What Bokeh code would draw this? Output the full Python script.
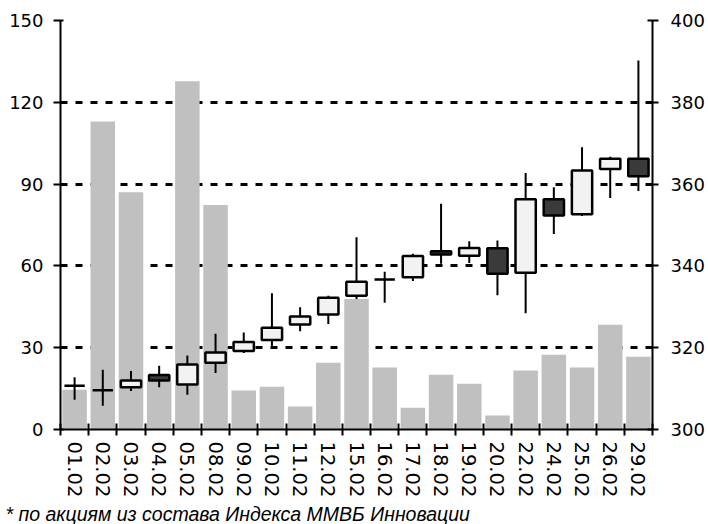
from bokeh.plotting import figure
from bokeh.models import (Range1d, LinearAxis, FixedTicker, ColumnDataSource, Title, Grid)
from bokeh.embed import file_html
from bokeh.resources import INLINE

dates = ["01.02", "02.02", "03.02", "04.02", "05.02", "08.02", "09.02", "10.02", "11.02",
         "12.02", "15.02", "16.02", "17.02", "18.02", "19.02", "20.02", "22.02", "24.02",
         "25.02", "26.02", "29.02"]
volume = [14.6, 113, 87, 18, 127.7, 82.3, 14.3, 15.7, 8.4, 24.5, 47.9, 22.7, 8.0, 20.1,
          16.8, 5.1, 21.6, 27.4, 22.7, 38.4, 26.7]
open_ = [310.7, 309.6, 310.3, 313.3, 311.0, 316.3, 319.2, 321.9, 325.7, 328.1, 332.7, 336.7,
         337.2, 343.6, 342.5, 344.3, 338.3, 356.3, 352.6, 363.7, 366.2]
close = [310.7, 309.6, 312.0, 312.0, 315.9, 318.8, 321.4, 324.9, 327.6, 332.2, 336.1, 336.7,
         342.4, 342.8, 344.4, 338.1, 356.3, 352.3, 363.3, 366.2, 361.9]
high = [312.8, 314.6, 314.3, 315.6, 318.1, 323.4, 323.7, 333.3, 329.9, 332.7, 347.0, 338.6,
        343.0, 355.2, 346.0, 346.2, 362.7, 359.2, 369.0, 366.7, 390.2]
low = [307.3, 305.8, 309.4, 310.3, 308.5, 313.8, 318.7, 320.1, 324.0, 325.8, 331.9, 331.0,
       336.3, 340.5, 340.7, 332.8, 328.4, 347.8, 352.2, 356.6, 358.3]
vol_ticks = [0, 30, 60, 90, 120, 150]
price_ticks = [300, 320, 340, 360, 380, 400]
footnote = "* по акциям из состава Индекса ММВБ Инновации"

n = len(dates)
xs = [i + 0.5 for i in range(n)]
up = [c >= o for o, c in zip(open_, close)]
src = ColumnDataSource(dict(
    x=xs, vol=volume, o=open_, c=close, h=high, l=low,
    top=[max(o, c) for o, c in zip(open_, close)],
    bot=[min(o, c) for o, c in zip(open_, close)],
    fill=["#f2f2f2" if u else "#3a3a3a" for u in up],
))

FONT = "DejaVu Sans"

p = figure(width=708, height=524, output_backend="svg", toolbar_location=None,
           x_range=Range1d(0, n), y_range=Range1d(0, 150),
           min_border_left=60, min_border_right=56, min_border_top=20,
           min_border_bottom=95, x_axis_type=None, y_axis_type=None)
p.outline_line_color = None
p.background_fill_color = "white"
p.border_fill_color = "white"
p.extra_y_ranges = {"price": Range1d(300, 400)}

# left axis
yl = LinearAxis(ticker=FixedTicker(ticks=vol_ticks))
yl.axis_line_color = "black"
yl.axis_line_width = 2
yl.major_tick_line_width = 2
yl.major_tick_out = 7
yl.major_tick_in = 3
yl.minor_tick_line_color = None
yl.major_label_text_font = FONT
yl.major_label_text_font_size = "18px"
yl.major_label_text_color = "black"
yl.major_label_standoff = 10
p.add_layout(yl, "left")

# right axis
yr = LinearAxis(y_range_name="price", ticker=FixedTicker(ticks=price_ticks))
yr.axis_line_color = "black"
yr.axis_line_width = 2
yr.major_tick_line_width = 2
yr.major_tick_out = 6
yr.major_tick_in = 5
yr.minor_tick_line_color = None
yr.major_label_text_font = FONT
yr.major_label_text_font_size = "18px"
yr.major_label_text_color = "black"
yr.major_label_standoff = 12
p.add_layout(yr, "right")

# bottom axis
xa = LinearAxis(ticker=FixedTicker(ticks=xs, minor_ticks=list(range(n + 1))))
xa.major_label_overrides = {x: d for x, d in zip(xs, dates)}
xa.major_label_orientation = "vertical"
xa.axis_line_color = "black"
xa.axis_line_width = 2
xa.major_tick_line_color = None
xa.major_tick_out = 6
xa.major_tick_in = 0
xa.minor_tick_line_color = "black"
xa.minor_tick_line_width = 2
xa.minor_tick_out = 6
xa.minor_tick_in = 6
xa.major_label_text_font = FONT
xa.major_label_text_font_size = "19.5px"
xa.major_label_text_color = "black"
xa.major_label_standoff = 6
p.add_layout(xa, "below")

# grid
grid = Grid(dimension=1, ticker=FixedTicker(ticks=vol_ticks[1:]),
            grid_line_color="black", grid_line_width=3, grid_line_dash="7 8")
p.add_layout(grid)

# volume bars
p.vbar(x="x", top="vol", bottom=0, width=0.87, source=src,
       fill_color="#c0c0c0", line_color=None)

# candles
p.segment(x0="x", y0="l", x1="x", y1="h", source=src, y_range_name="price",
          line_color="black", line_width=2)
p.vbar(x="x", top="top", bottom="bot", width=0.72, source=src, y_range_name="price",
       fill_color="fill", line_color="black", line_width=2.5)

p.add_layout(Title(text=footnote, align="left", text_font="Liberation Sans",
                   text_font_size="19.5px", text_font_style="italic",
                   text_color="black", offset=-55, standoff=0), "below")

open("out.html", "w").write(file_html(p, INLINE))
